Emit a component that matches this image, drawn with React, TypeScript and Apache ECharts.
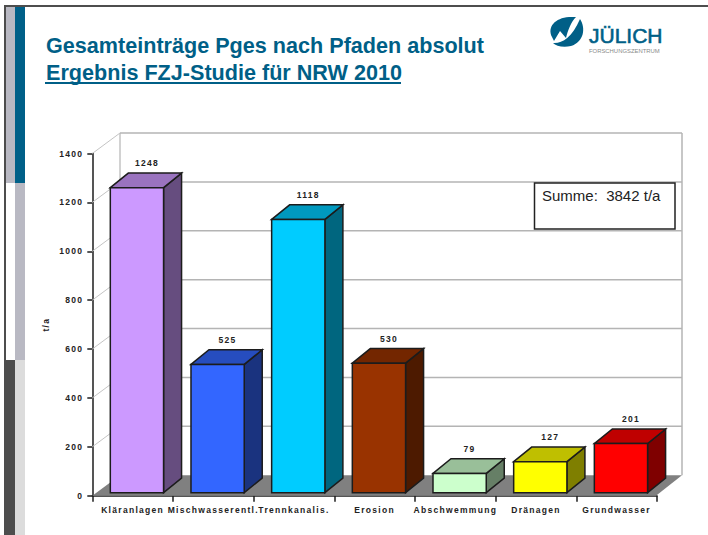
import React, { useEffect, useRef } from "react";
import * as echarts from "echarts";

const categories = ["Kläranlagen", "Mischwasserentl.", "Trennkanalis.", "Erosion", "Abschwemmung", "Dränagen", "Grundwasser"];
const values = [1248, 525, 1118, 530, 79, 127, 201];
const frontColors = ["#cc99ff", "#3366ff", "#00ccff", "#993300", "#ccffcc", "#ffff00", "#ff0000"];
const topColors = ["#9a73bf", "#264dbf", "#0099bf", "#732600", "#99bf99", "#bfbf00", "#bf0000"];
const sideColors = ["#664d7f", "#1a337f", "#00667f", "#4d1a00", "#667f66", "#7f7f00", "#7f0000"];
const tickValues = [0, 200, 400, 600, 800, 1000, 1200, 1400];
const titleLine1 = "Gesamteinträge Pges nach Pfaden absolut";
const titleLine2 = "Ergebnis FZJ-Studie für NRW 2010";
const sumText = "Summe:  3842 t/a";

const BLUE = "#005f87";
const WALL_DX = 27.7;
const WALL_DY = -20.5;
const BAR_DX = 18;
const BAR_DY = -14.6;

echarts.graphic.registerShape(
  "juelichLogo",
  echarts.graphic.extendPath(
    "M552 37C547 27 555 18 569 17L576 17C571 22 568 30 566 38L560 31C558 34 556 38 554 41Z" +
      "M580 19C586 28 584 42 571 46C563 48 556 46 553 43C561 44 572 38 580 19Z",
    {}
  )
);

const wallItem = (params: any, api: any) => {
  const v = api.value(0);
  const cs = params.coordSys;
  const x0 = cs.x;
  const x1 = cs.x + cs.width;
  const backRight = x1 + WALL_DX - 2.7;
  const y = api.coord([0, v])[1];
  const line = (a: number, b: number, c: number, d: number, stroke: string, lineWidth: number) => ({
    type: "line",
    shape: { x1: a, y1: b, x2: c, y2: d },
    style: { stroke, lineWidth },
  });
  const children: any[] = [];
  if (v === 0) {
    children.push({
      type: "polygon",
      shape: {
        points: [
          [x0, y],
          [x0 + WALL_DX, y + WALL_DY],
          [backRight, y + WALL_DY],
          [x1 - 1, y],
        ],
      },
      style: { fill: "#808080" },
    });
    const topY = api.coord([0, tickValues[tickValues.length - 1]])[1] + WALL_DY;
    children.push(line(x0 + WALL_DX, y + WALL_DY, x0 + WALL_DX, topY, "#b4b4b4", 1.2));
    children.push(line(backRight, y + WALL_DY, backRight, topY, "#b4b4b4", 1.5));
  } else {
    children.push(line(x0, y, x0 + WALL_DX, y + WALL_DY, "#c4c4c4", 1));
    children.push(line(x0 + WALL_DX, y + WALL_DY, backRight, y + WALL_DY, "#b4b4b4", 1.5));
  }
  return { type: "group", children };
};

const barItem = (params: any, api: any) => {
  const i = params.dataIndex;
  const bottom = api.coord([api.value(0), 0]);
  const top = api.coord([api.value(0), api.value(1)]);
  const w = api.size([1, 0])[0] * 0.66;
  const l = bottom[0] + 4.3 - w / 2;
  const r = l + w;
  const yb = bottom[1] - 3;
  const yt = top[1] - 3;
  const style = (fill: string) => ({ fill, stroke: "#1c1c1c", lineWidth: 1.5, lineJoin: "miter" });
  return {
    type: "group",
    children: [
      {
        type: "polygon",
        shape: { points: [[r, yb], [r + BAR_DX, yb + BAR_DY], [r + BAR_DX, yt + BAR_DY], [r, yt]] },
        style: style(sideColors[i]),
      },
      {
        type: "polygon",
        shape: { points: [[l, yt], [l + BAR_DX, yt + BAR_DY], [r + BAR_DX, yt + BAR_DY], [r, yt]] },
        style: style(topColors[i]),
      },
      { type: "rect", shape: { x: l, y: yt, width: w, height: yb - yt }, style: style(frontColors[i]) },
      {
        type: "text",
        style: {
          text: String(values[i]),
          x: (l + r) / 2 + 10,
          y: yt + BAR_DY - 10,
          align: "center",
          verticalAlign: "middle",
          fill: "#222222",
          fontFamily: "Liberation Sans",
          fontWeight: "bold",
          fontSize: 8.5,
        },
      },
    ],
  };
};

const rect = (x: number, y: number, width: number, height: number, fill: string) => ({
  type: "rect",
  shape: { x, y, width, height },
  style: { fill },
  silent: true,
});

export default function App() {
  const ref = useRef<HTMLDivElement>(null);
  useEffect(() => {
    const chart = echarts.init(ref.current!, null, { renderer: "svg" });
    chart.setOption({
      animation: false,
      backgroundColor: "#ffffff",
      grid: { left: 92.3, right: 51, top: 153.5, bottom: 39.3, containLabel: false },
      xAxis: {
        type: "category",
        data: categories,
        axisLine: { lineStyle: { color: "#1c1c1c", width: 1.5 } },
        axisTick: { show: true, length: 6, lineStyle: { color: "#1c1c1c", width: 1.5 } },
        axisLabel: {
          interval: 0,
          margin: 10,
          hideOverlap: false,
          color: "#222222",
          fontFamily: "Liberation Sans",
          fontWeight: "bold",
          fontSize: 8.5,
        },
      },
      yAxis: {
        type: "value",
        min: 0,
        max: 1400,
        interval: 200,
        name: "t/a",
        nameLocation: "middle",
        nameGap: 41.5,
        nameTextStyle: { color: "#222222", fontFamily: "Liberation Sans", fontWeight: "bold", fontSize: 8.5 },
        splitLine: { show: false },
        axisLine: { show: true, lineStyle: { color: "#1c1c1c", width: 1.5 } },
        axisTick: { show: true, length: 5, lineStyle: { color: "#1c1c1c", width: 1.5 } },
        axisLabel: {
          margin: 9,
          formatter: (v: number) => String(v),
          color: "#222222",
          fontFamily: "Liberation Sans",
          fontWeight: "bold",
          fontSize: 8.5,
        },
      },
      series: [
        { type: "custom", name: "wall", z: 1, clip: false, silent: true, data: tickValues.map((v) => [v]), encode: { y: 0 }, renderItem: wallItem },
        {
          type: "custom",
          name: "bars",
          z: 3,
          clip: false,
          silent: true,
          data: values.map((v, i) => [i, v]),
          encode: { x: 0, y: 1 },
          renderItem: barItem,
        },
      ],
      graphic: [
        rect(4, 5, 704, 2, "#4d4d4d"),
        rect(4, 5, 2, 530, "#4d4d4d"),
        rect(6, 7, 9, 176, "#b9b9c3"),
        rect(15, 7, 10, 176, "#006088"),
        rect(15, 183, 10, 177, "#b9b9c3"),
        rect(5, 360, 10, 175, "#4d4d4d"),
        rect(15, 360, 10, 175, "#dcdcdc"),
        {
          type: "text",
          style: { text: titleLine1, x: 46, y: 45.7, fill: BLUE, fontFamily: "Liberation Sans", fontWeight: "bold", fontSize: 21.6, verticalAlign: "middle" },
        },
        {
          type: "text",
          style: { text: titleLine2, x: 46, y: 72.5, fill: BLUE, fontFamily: "Liberation Sans", fontWeight: "bold", fontSize: 21.6, verticalAlign: "middle" },
        },
        { type: "line", shape: { x1: 45, y1: 83, x2: 401, y2: 83 }, style: { stroke: BLUE, lineWidth: 1.8 } },
        { type: "juelichLogo", x: 0, y: 0, style: { fill: BLUE } },
        {
          type: "text",
          style: { text: "JÜLICH", x: 589, y: 35, fill: BLUE, stroke: BLUE, lineWidth: 0.6, fontFamily: "Liberation Sans", fontSize: 21, verticalAlign: "middle" },
        },
        {
          type: "text",
          style: { text: "FORSCHUNGSZENTRUM", x: 589, y: 51, fill: "#8a8a8a", fontFamily: "Liberation Sans", fontSize: 5.9, verticalAlign: "middle" },
        },
        {
          type: "rect",
          z: 10,
          shape: { x: 534.5, y: 183, width: 140.5, height: 46 },
          style: { fill: "#ffffff", stroke: "#222222", lineWidth: 1.5 },
        },
        {
          type: "text",
          z: 11,
          style: { text: sumText, x: 542, y: 195, fill: "#222222", fontFamily: "Liberation Sans", fontSize: 15, verticalAlign: "middle" },
        },
      ],
    });
    return () => chart.dispose();
  }, []);
  return (
    <>
      <style>{`#chart text[style*="8.5px"]{letter-spacing:1.3px}`}</style>
      <div id="chart" ref={ref} style={{ position: "fixed", left: 0, top: 0, width: 708, height: 535 }} />
    </>
  );
}
